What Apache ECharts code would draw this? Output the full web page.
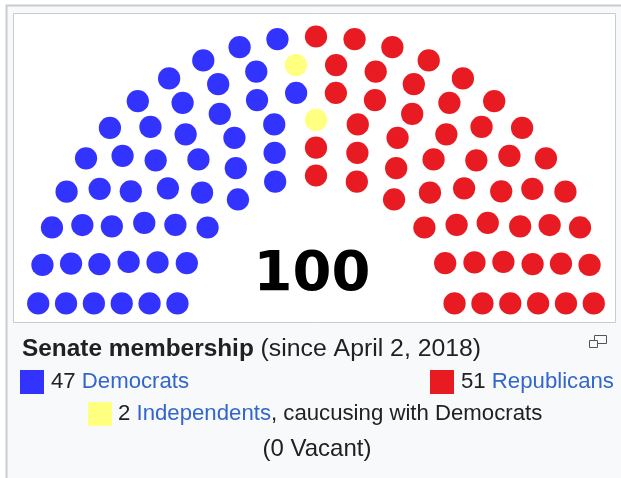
<!DOCTYPE html>
<html>
<head>
<meta charset="utf-8">
<title>Senate membership</title>
<script src="https://cdn.jsdelivr.net/npm/echarts@6/dist/echarts.min.js"></script>
<style>
    html, body { margin: 0; padding: 0; background: #fff; }
    #senate_chart { width: 621px; height: 478px; }
</style>
</head>
<body>
<div id="senate_chart"></div>
<script>
    // party data, in seating order from left to right
    const parties = ['Democrats', 'Independents', 'Republicans'];
    const partySeats = [47, 2, 51];
    const partyColors = ['#3333ff', '#ffff80', '#e81b23'];
    const totalSeats = 100;
    const vacantSeats = 0;
    // seats that fit in a diagram of 1, 2, 3 ... rows (parliament diagram tool)
    const rowTotals = [3, 15, 33, 61, 95, 138, 189, 247, 313, 388, 469, 559, 657, 762, 876, 997];

    const LINK = '#3366cc';
    const INK = '#202122';
    const FONT = '"Liberation Sans", Arial, sans-serif';

    // same seat layout as the wikipedia parliament diagram tool
    function seatLayout (n) {
        let rows = 0;
        while (rowTotals[rows] < n) rows++;
        rows = rows + 1;
        const radius = 0.4 / rows;
        const pos = [];
        for (let i = 1; i <= rows; i++) {
            const R = (3.0 * rows + 4.0 * i - 2.0) / (4.0 * rows);
            let J;
            if (i < rows) {
                J = Math.floor(n / rowTotals[rows - 1] * Math.PI / (2 * Math.asin(2.0 / (3.0 * rows + 4.0 * i - 2.0))));
            } else {
                J = n - pos.length;
            }
            if (J === 1) {
                pos.push([Math.PI / 2, 1.75 * R, R, R]);
            } else {
                for (let j = 0; j < J; j++) {
                    const angle = j * (Math.PI - 2.0 * Math.sin(radius / R)) / (J - 1.0) + Math.sin(radius / R);
                    pos.push([angle, R * Math.cos(angle) + 1.75, R * Math.sin(angle), R]);
                }
            }
        }
        pos.sort(function (a, b) {
            for (let k = 0; k < 3; k++) {
                if (a[k] !== b[k]) return b[k] - a[k];
            }
            return 0;
        });
        return { pos: pos, radius: radius };
    }

    const layout = seatLayout(totalSeats);
    const unitPx = 166.8;   // pixels for 1.0 of diagram radius

    const series = [];
    let seatNo = 0;
    parties.forEach(function (name, p) {
        const data = [];
        for (let s = 0; s < partySeats[p]; s++) {
            const q = layout.pos[seatNo++];
            data.push([q[3], q[0] * 180 / Math.PI]);
        }
        series.push({
            name: name,
            type: 'scatter',
            coordinateSystem: 'polar',
            symbol: 'circle',
            symbolSize: 2 * layout.radius * unitPx,
            itemStyle: { color: partyColors[p], opacity: 1 },
            silent: true,
            data: data
        });
    });

    function legendText (n, label, rest) {
        return {
            text: '{n|' + n + '\u00a0}{l|' + label + '}' + (rest ? '{n|' + rest + '}' : ''),
            textVerticalAlign: 'middle',
            rich: {
                n: { fontFamily: FONT, fontSize: 22.2, fill: INK },
                l: { fontFamily: FONT, fontSize: 22.2, fill: LINK }
            }
        };
    }

    const chart = echarts.init(document.getElementById('senate_chart'));
    const option = {
        animation: false,
        polar: {
            center: [316, 314.5],
            radius: 1.75 * unitPx
        },
        radiusAxis: {
            type: 'value', min: 0, max: 1.75,
            axisLine: { show: false }, axisTick: { show: false },
            axisLabel: { show: false }, splitLine: { show: false }
        },
        angleAxis: {
            type: 'value', min: 0, max: 360, startAngle: 0, clockwise: false,
            axisLine: { show: false }, axisTick: { show: false },
            axisLabel: { show: false }, splitLine: { show: false }
        },
        graphic: [
            // infobox box and image frame
            { type: 'rect', z: -10, shape: { x: 6.5, y: 5.5, width: 700, height: 600 },
              style: { fill: '#f8f9fa', stroke: '#c8ccd1', lineWidth: 2 } },
            { type: 'rect', z: -9, shape: { x: 13.5, y: 13.5, width: 602, height: 309 },
              style: { fill: '#ffffff', stroke: '#c8ccd1', lineWidth: 1 } },
            { type: 'text', z: 5, x: 312, y: 303,
              style: { text: String(totalSeats), font: 'bold 56px "DejaVu Sans"', fill: '#000',
                       textAlign: 'center', textVerticalAlign: 'bottom' } },
            // caption
            { type: 'text', x: 22, y: 349,
              style: {
                  text: '{b|Senate membership\u00a0}{n|(since April 2, 2018)}',
                  textVerticalAlign: 'middle',
                  rich: {
                      b: { fontFamily: FONT, fontWeight: 'bold', fontSize: 24.4, fill: INK },
                      n: { fontFamily: FONT, fontSize: 24.8, fill: INK }
                  }
              } },
            // enlarge icon
            { type: 'rect', shape: { x: 594.5, y: 335.5, width: 12, height: 8 },
              style: { fill: 'none', stroke: '#555', lineWidth: 1 } },
            { type: 'rect', shape: { x: 589.5, y: 340.5, width: 8, height: 7 },
              style: { fill: '#f8f9fa', stroke: '#555', lineWidth: 1 } },
            // legend
            { type: 'rect', shape: { x: 20, y: 370, width: 24, height: 24 }, style: { fill: partyColors[0] } },
            { type: 'text', x: 51, y: 382, style: legendText(partySeats[0], parties[0]) },
            { type: 'rect', shape: { x: 430, y: 370, width: 24, height: 24 }, style: { fill: partyColors[2] } },
            { type: 'text', x: 461, y: 382, style: legendText(partySeats[2], parties[2]) },
            { type: 'rect', shape: { x: 88, y: 402, width: 24, height: 24 }, style: { fill: partyColors[1] } },
            { type: 'text', x: 118, y: 414, style: legendText(partySeats[1], parties[1], ', caucusing with Democrats') },
            { type: 'text', x: 317, y: 449,
              style: { text: '(' + vacantSeats + ' Vacant)', fontFamily: FONT, fontSize: 24, fill: INK,
                       textAlign: 'center', textVerticalAlign: 'middle' } }
        ],
        series: series
    };
    chart.setOption(option);

    window.addEventListener('resize', function () {
        chart.resize();
    });
</script>
</body>
</html>
